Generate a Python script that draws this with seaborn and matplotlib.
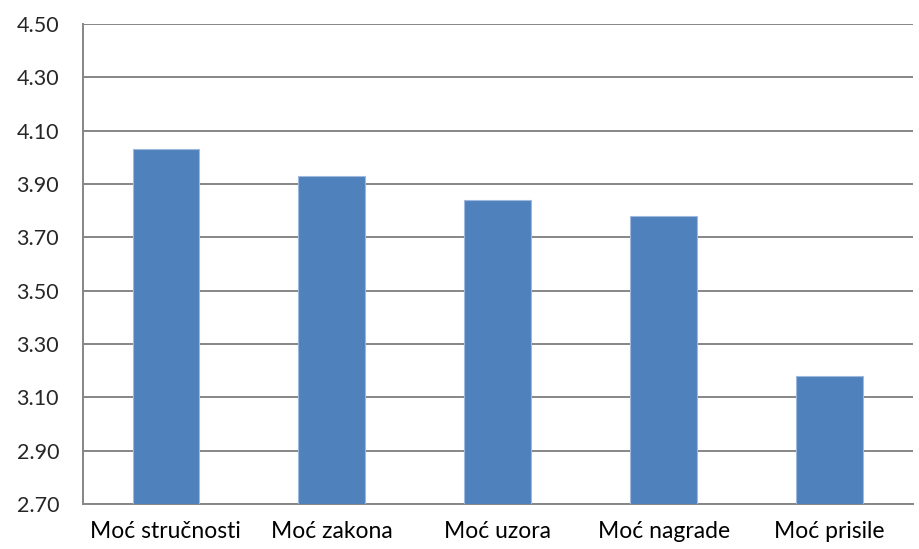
import matplotlib.pyplot as plt
import numpy as np
import pandas as pd
import seaborn as sns

categories = ['Moć stručnosti', 'Moć zakona', 'Moć uzora', 'Moć nagrade', 'Moć prisile']
values = [4.03, 3.93, 3.84, 3.78, 3.18]
y_ticks = [2.70, 2.90, 3.10, 3.30, 3.50, 3.70, 3.90, 4.10, 4.30, 4.50]

df = pd.DataFrame({'kategorija': categories, 'vrijednost': values})

sns.set_style('white')
plt.rcParams['font.family'] = ['Lato', 'DejaVu Sans']

fig, ax = plt.subplots(figsize=(9.19, 5.49), dpi=100)
fig.subplots_adjust(left=0.09, right=0.993, top=0.956, bottom=0.082)

sns.barplot(data=df, x='kategorija', y='vrijednost', color='#4F81BD',
            width=0.4, saturation=1, edgecolor='#9FB9DC', linewidth=0.8,
            ax=ax, zorder=3)

ax.set_ylim(2.70, 4.50)
ax.set_xlim(-0.5, len(categories) - 0.5)
ax.set_yticks(y_ticks)
ax.set_yticklabels([f'{t:.2f}' for t in y_ticks])
ax.yaxis.grid(True, color='#868686', linewidth=1.4, zorder=0)
ax.set_axisbelow(True)

# category boundaries as small ticks, labels centred without ticks
ax.set_xticks(np.arange(len(categories)))
ax.set_xticklabels(categories)
ax.set_xticks(np.arange(len(categories) + 1) - 0.5, minor=True)
ax.tick_params(axis='x', which='major', length=0, pad=12, labelsize=16.5, colors='black')
ax.tick_params(axis='x', which='minor', length=6, width=1.2, color='#868686')
ax.tick_params(axis='y', length=8, width=1.2, color='#868686', pad=9, labelsize=15.5)

ax.set_xlabel('')
ax.set_ylabel('')
for side in ['top', 'right']:
    ax.spines[side].set_visible(False)
for side in ['left', 'bottom']:
    ax.spines[side].set_color('#868686')
    ax.spines[side].set_linewidth(1.4)

fig.savefig('out.png', dpi=100, facecolor='white')
